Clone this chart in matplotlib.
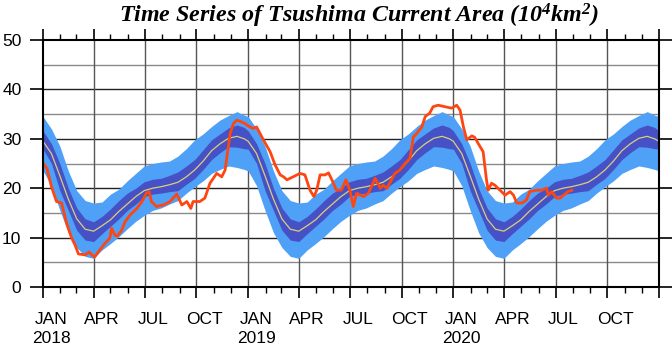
"""Time series of the Tsushima Current area with climatological bands."""

import numpy as np
import pandas as pd
import matplotlib
matplotlib.use('Agg')
import matplotlib.pyplot as plt
import matplotlib.dates as mdates
from matplotlib.transforms import ScaledTranslation

# climatology, by day of year (same every year)
clim_doy = [0, 15, 30, 45, 60, 75, 90, 105, 120, 135, 150, 165, 180, 195,
            210, 225, 240, 255, 270, 285, 300, 315, 330, 345, 358]
clim_mean = [29.5, 27.0, 22.5, 17.8, 13.8, 11.7, 11.3, 12.4, 13.6, 15.3, 16.8, 18.3, 19.5, 20.0,
             20.3, 20.7, 21.2, 22.3, 23.7, 25.5, 27.6, 29.0, 30.1, 30.5, 30.0]
clim_in_lo = [27.9, 25.0, 19.5, 15.5, 11.5, 9.5, 9.2, 10.8, 12.3, 13.8, 15.5, 16.8, 18.3, 18.8,
              19.0, 19.3, 19.5, 20.8, 22.0, 23.8, 25.8, 27.2, 28.4, 28.3, 28.0]
clim_in_hi = [31.6, 29.0, 25.0, 20.0, 16.0, 13.8, 13.2, 14.3, 15.8, 17.5, 19.0, 20.0, 21.3, 21.8,
              22.0, 22.6, 23.3, 24.5, 25.8, 27.8, 29.8, 31.0, 32.2, 32.8, 32.3]
clim_out_lo = [23.5, 20.5, 15.5, 11.0, 8.0, 6.2, 5.8, 7.5, 8.8, 10.2, 11.8, 13.3, 14.5, 15.5,
               16.0, 16.8, 17.5, 19.0, 20.3, 21.5, 23.0, 23.8, 24.5, 24.2, 23.8]
clim_out_hi = [34.5, 32.0, 28.5, 23.5, 19.5, 17.5, 17.0, 17.2, 18.8, 19.8, 21.5, 23.0, 24.5, 25.0,
               25.3, 25.5, 26.5, 28.0, 29.8, 31.0, 32.5, 33.8, 34.7, 35.5, 34.8]
clim_years = [2018, 2019, 2020]

# observed area, days since 2018-01-01
obs_day = [0, 7, 15, 24, 33, 42, 51, 57, 63, 75, 82, 87, 92, 101, 110, 119, 122, 128, 132,
           140, 146, 155, 167, 176, 184, 189, 193, 202, 214, 226, 238, 247, 256, 263, 267,
           279, 288, 297, 309, 318, 324, 333, 339, 345, 359, 368, 374, 380, 392, 404, 413,
           422, 428, 434, 445, 457, 466, 475, 482, 487, 493, 502, 508, 514, 522, 531, 539,
           546, 552, 558, 570, 579, 591, 600, 605, 612, 620, 626, 635, 644, 653, 659, 665,
           674, 680, 688, 694, 703, 715, 727, 736, 742, 748, 754, 763, 768, 774, 783, 789,
           792, 798, 804, 813, 822, 831, 837, 843, 852, 860, 866, 878, 887, 896, 899, 905,
           914, 920, 926, 934, 941]
obs_val = [25.0, 24.0, 20.3, 17.3, 17.0, 12.9, 9.9, 8.5, 6.7, 6.5, 7.1, 6.5, 6.1, 7.5, 8.8,
           9.9, 11.9, 10.5, 10.3, 11.5, 13.2, 14.6, 15.9, 17.3, 19.0, 19.3, 17.3, 16.3, 16.6,
           17.3, 18.8, 16.6, 17.3, 15.9, 17.3, 17.3, 18.0, 21.0, 23.0, 22.3, 23.7, 31.1, 33.1,
           33.8, 33.1, 32.4, 32.1, 32.4, 29.8, 27.4, 24.7, 22.7, 22.3, 21.7, 22.3, 23.0, 22.7,
           19.6, 18.3, 19.6, 22.7, 22.7, 23.1, 21.7, 19.6, 19.6, 21.7, 19.6, 16.3, 19.0, 18.3,
           19.0, 22.0, 20.0, 20.6, 20.0, 21.7, 23.0, 23.7, 25.0, 26.1, 30.4, 31.1, 32.4, 34.5,
           35.2, 36.5, 36.8, 36.5, 36.2, 36.8, 35.8, 32.4, 29.8, 30.6, 30.3, 29.1, 27.4, 21.7,
           19.6, 21.0, 20.6, 19.6, 18.6, 19.3, 18.6, 17.0, 17.0, 17.6, 19.3, 19.6, 19.6, 20.0,
           18.6, 19.3, 18.0, 18.0, 18.6, 19.3, 19.6]

tick_labels = ['JAN\n2018', 'APR', 'JUL', 'OCT', 'JAN\n2019', 'APR', 'JUL', 'OCT',
               'JAN\n2020', 'APR', 'JUL', 'OCT', '']

LIGHT = '#4fa0f7'
DARK = '#4651c6'
MEAN = '#d8d07a'
OBS = '#ff4510'

plt.rcParams['mathtext.fontset'] = 'custom'
plt.rcParams['mathtext.it'] = 'Liberation Serif:italic:bold'
plt.rcParams['mathtext.rm'] = 'Liberation Serif:italic:bold'
plt.rcParams['mathtext.bf'] = 'Liberation Serif:italic:bold'

# repeat the climatology over the three years
clim = pd.DataFrame({'doy': clim_doy, 'mean': clim_mean, 'in_lo': clim_in_lo,
                     'in_hi': clim_in_hi, 'out_lo': clim_out_lo, 'out_hi': clim_out_hi})
parts = []
for yr in clim_years:
    p = clim.copy()
    p['date'] = pd.Timestamp(f'{yr}-01-01') + pd.to_timedelta(p['doy'], unit='D')
    parts.append(p)
last = clim.iloc[[0]].copy()
last['date'] = pd.Timestamp(f'{clim_years[-1] + 1}-01-01')
parts.append(last)
clim_all = pd.concat(parts, ignore_index=True)

obs_dates = pd.Timestamp('2018-01-01') + pd.to_timedelta(obs_day, unit='D')

fig = plt.figure(figsize=(6.72, 3.46), dpi=100)
ax = fig.add_axes([0.064, 0.1705, 0.9167, 0.7139])

# grid goes under the bands
for yv in range(5, 50, 5):
    c = '#222222' if yv % 10 == 0 else '#8a8a8a'
    ax.axhline(yv, color=c, lw=1, zorder=1)
quarters = pd.date_range('2018-01-01', '2021-01-01', freq='QS')
for q in quarters[1:-1]:
    ax.axvline(q, color='#555555', lw=1, zorder=1)

ax.fill_between(clim_all['date'], clim_all['out_lo'], clim_all['out_hi'],
                color=LIGHT, lw=0, zorder=2)
ax.fill_between(clim_all['date'], clim_all['in_lo'], clim_all['in_hi'],
                color=DARK, lw=0, zorder=3)

ax.plot(clim_all['date'], clim_all['mean'], color=MEAN, lw=0.9, zorder=4)
ax.plot(obs_dates, obs_val, color=OBS, lw=2, zorder=5)

ax.set_xlim(pd.Timestamp('2018-01-01'), pd.Timestamp('2021-01-01'))
ax.set_ylim(0, 50)

ax.set_xticks(quarters)
ax.set_xticklabels(tick_labels, fontfamily='Liberation Sans', fontsize=12.5, linespacing=1.3)
ax.xaxis.set_minor_locator(mdates.MonthLocator())
ax.set_yticks(range(0, 51, 10))
ax.set_yticklabels([str(v) for v in range(0, 51, 10)], fontfamily='Liberation Sans', fontsize=12.5)

ax.tick_params(axis='x', which='major', direction='out', length=8, width=1.2,
               top=True, pad=10)
ax.tick_params(axis='x', which='minor', direction='out', length=4.5, width=1, top=True)
ax.tick_params(axis='y', which='major', direction='out', length=9.5, width=1.2,
               right=True, pad=6)

# labels sit mid-month
shift = ScaledTranslation(8 / 100, 0, fig.dpi_scale_trans)
for lab in ax.get_xticklabels():
    lab.set_transform(lab.get_transform() + shift)

for sp in ax.spines.values():
    sp.set_linewidth(1.5)
    sp.set_zorder(6)

fig.text(0.534, 0.936, 'Time Series of Tsushima Current Area (10$^{4}$km$^{2}$)',
         fontfamily='Liberation Serif', fontweight='bold', fontstyle='italic',
         fontsize=17.3, ha='center', va='baseline')

fig.savefig('out.png', dpi=100)
